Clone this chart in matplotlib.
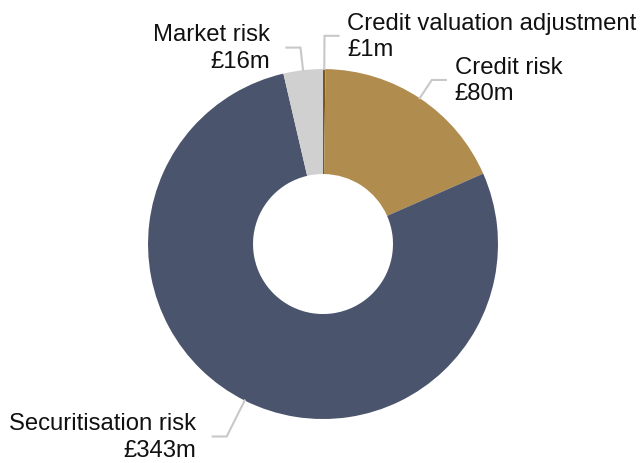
import numpy as np
import matplotlib
matplotlib.use("Agg")
import matplotlib.pyplot as plt

plt.rcParams['font.family'] = ['Liberation Sans', 'DejaVu Sans']

categories = ["Credit valuation adjustment", "Credit risk", "Securitisation risk", "Market risk"]
values = [1, 80, 343, 16]
value_labels = ["£1m", "£80m", "£343m", "£16m"]
colors = ["#7d5719", "#b08d4e", "#4a546d", "#d0d0d0"]
elbow_r = [1.19, 1.125, 1.23, 1.13]

fig = plt.figure(figsize=(6.42, 4.64), dpi=100)
ax = fig.add_axes([0, 0, 1, 1])
wedges, _ = ax.pie(values, colors=colors, startangle=90, counterclock=False,
                   radius=1.0, wedgeprops=dict(width=0.6, linewidth=0))
ax.set_xlim(-1.846, 1.823)
ax.set_ylim(-1.251, 1.40)
ax.set_aspect('equal')
ax.axis('off')

line_col = "#c8c8c8"
for w, cat, lab, er in zip(wedges, categories, value_labels, elbow_r):
    ang = np.deg2rad((w.theta1 + w.theta2) / 2)
    x0, y0 = np.cos(ang) * 1.0, np.sin(ang) * 1.0
    x1, y1 = np.cos(ang) * er, np.sin(ang) * er
    side = 1 if np.cos(ang) >= 0 else -1
    x2 = x1 + side * 0.08
    ax.plot([x0, x1, x2], [y0, y1, y1], color=line_col, lw=1.5,
            solid_joinstyle='miter', clip_on=False)
    gap = 0.05 if side > 0 else 0.095
    ax.text(x2 + side * gap, y1, f"{cat}\n{lab}", fontsize=17.2,
            ha='left' if side > 0 else 'right', va='center', linespacing=1.25,
            multialignment='left' if side > 0 else 'right', color='#111111')

fig.savefig("out.png", dpi=100)
